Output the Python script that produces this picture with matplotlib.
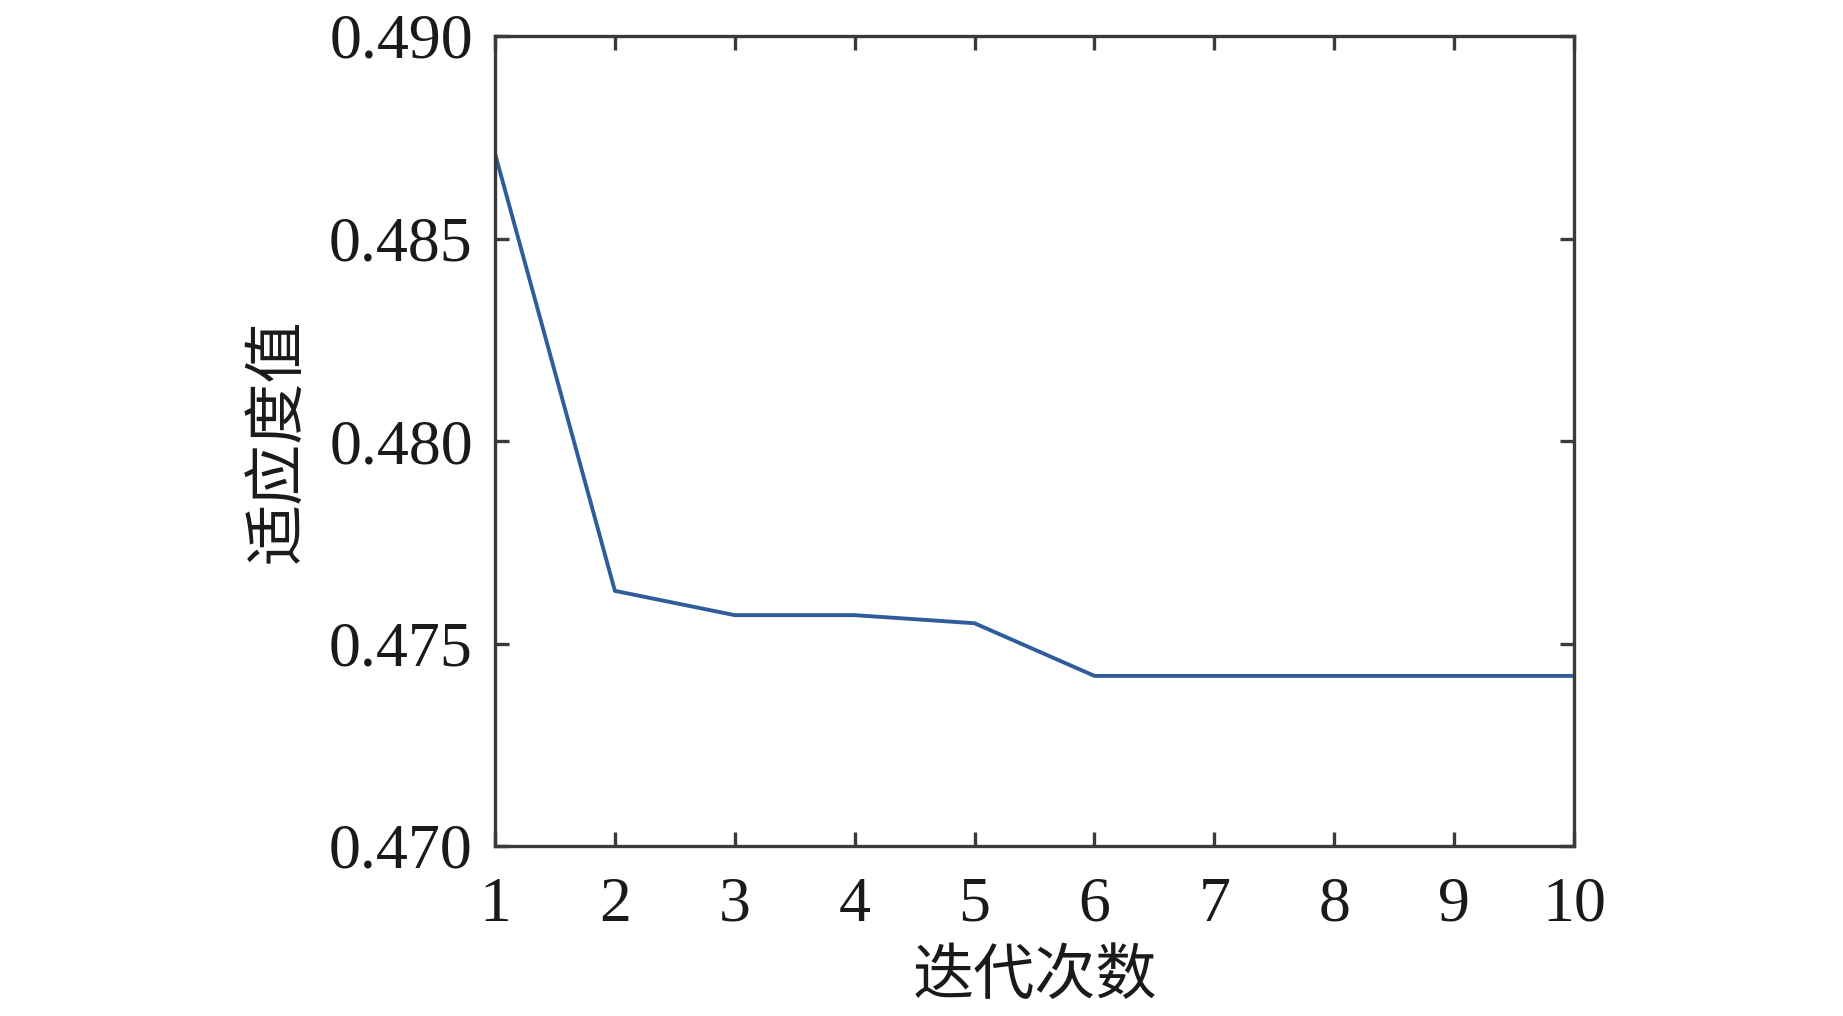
import matplotlib
matplotlib.use("Agg")
import matplotlib.pyplot as plt
import numpy as np

# 迭代次数 / 适应度值
iters = [1, 2, 3, 4, 5, 6, 7, 8, 9, 10]
fitness = [0.4871, 0.4763, 0.4757, 0.4757, 0.4755, 0.4742, 0.4742, 0.4742, 0.4742, 0.4742]
yticks = [0.470, 0.475, 0.480, 0.485, 0.490]

plt.rcParams['font.family'] = ['Liberation Serif', 'Noto Sans CJK SC']

fig = plt.figure(figsize=(18.43, 10.16), dpi=100)
ax = fig.add_axes([495 / 1843, 1 - 846 / 1016, (1574 - 495) / 1843, (846 - 36) / 1016])

ax.plot(iters, fitness, color='#2f5d9a', linewidth=2.8)

ax.set_xlim(1, 10)
ax.set_ylim(0.470, 0.490)
ax.set_xticks(iters)
ax.set_yticks(yticks)
ax.set_yticklabels([f"{v:.3f}" for v in yticks])

for s in ax.spines.values():
    s.set_color('#3a3a3a')
    s.set_linewidth(2.4)
ax.tick_params(direction='in', length=10, width=2.4, color='#3a3a3a',
               top=True, right=True, labelsize=46, labelcolor='#1a1a1a')
ax.tick_params(axis='x', pad=22)
ax.tick_params(axis='y', pad=16)

ax.set_xlabel('迭代次数', fontsize=44, family=['Noto Sans CJK SC'], labelpad=8, color='#1a1a1a')
ax.set_ylabel('适应度值', fontsize=44, family=['Noto Sans CJK SC'], labelpad=14, color='#1a1a1a')

fig.savefig('out.png', dpi=100)
